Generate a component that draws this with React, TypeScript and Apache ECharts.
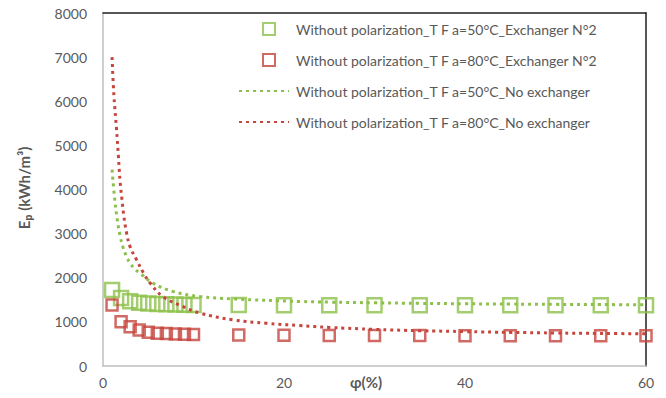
import React, { useEffect, useRef } from "react";
import * as echarts from "echarts";

const xSquares = [1, 2, 3, 4, 5, 6, 7, 8, 9, 10, 15, 20, 25, 30, 35, 40, 45, 50, 55, 60];
const green50Exchanger = [1720, 1540, 1470, 1435, 1415, 1405, 1398, 1392, 1388, 1384, 1380, 1378, 1377, 1376, 1376, 1375, 1375, 1374, 1374, 1374];
const red80Exchanger = [1385, 1005, 890, 815, 765, 745, 735, 725, 720, 715, 702, 698, 694, 692, 690, 688, 686, 685, 684, 683];

const xGreenCurve = [1, 1.3, 1.6, 1.9, 2.2, 2.6, 3, 3.5, 4.1, 5.5, 7.7, 10.7, 14.4, 21.8, 25, 30, 35, 40, 45, 50, 55, 60];
const green50NoExchanger = [4450, 3770, 3280, 2940, 2700, 2480, 2330, 2200, 2100, 1880, 1690, 1575, 1520, 1462, 1448, 1432, 1420, 1410, 1403, 1397, 1392, 1388];

const xRedCurve = [1, 1.2, 1.5, 1.7, 1.9, 2.1, 2.3, 2.6, 3, 3.7, 4.5, 5.2, 6.6, 8.8, 10.7, 14.4, 18, 21.7, 25, 30, 35, 40, 45, 50, 55, 60];
const red80NoExchanger = [7000, 6150, 5360, 4760, 4150, 3770, 3400, 3020, 2700, 2410, 2100, 1880, 1575, 1350, 1200, 1045, 970, 916, 875, 830, 800, 780, 762, 748, 738, 730];

const yTicks = [0, 1000, 2000, 3000, 4000, 5000, 6000, 7000, 8000];
const xTicks = [0, 20, 40, 60];

const legendNames = [
  "Without polarization_T F a=50°C_Exchanger N°2",
  "Without polarization_T F a=80°C_Exchanger N°2",
  "Without polarization_T F a=50°C_No exchanger",
  "Without polarization_T F a=80°C_No exchanger",
];

const GREEN = "#8CC04A";
const RED = "#C6453D";
const TEXT = "#595959";
const FONT = "Lato, 'Open Sans', sans-serif";

function zip(xs: number[], ys: number[]) {
  return xs.map((x, i) => [x, ys[i]]);
}

export default function App() {
  const ref = useRef<HTMLDivElement>(null);
  useEffect(() => {
    if (!ref.current) return;
    const chart = echarts.init(ref.current, undefined, { renderer: "svg" });
    chart.setOption({
      animation: false,
      backgroundColor: "#ffffff",
      textStyle: { fontFamily: FONT },
      grid: { left: 103, right: 20, top: 13, bottom: 32, containLabel: false },
      legend: [
        {
          orient: "vertical",
          left: 257,
          top: 17,
          itemWidth: 12,
          itemHeight: 12,
          itemGap: 17,
          textStyle: { color: TEXT, fontSize: 14, lineHeight: 14, fontFamily: FONT, padding: [0, 0, 0, 16] },
          data: [legendNames[0], legendNames[1]],
        },
        {
          orient: "vertical",
          left: 233,
          top: 79,
          itemWidth: 50,
          itemHeight: 14,
          itemGap: 17,
          textStyle: { color: TEXT, fontSize: 14, lineHeight: 14, fontFamily: FONT, padding: [0, 0, 0, 2] },
          data: [
            { name: legendNames[2], itemStyle: { color: "rgba(0,0,0,0)", borderWidth: 0, opacity: 0 } },
            { name: legendNames[3], itemStyle: { color: "rgba(0,0,0,0)", borderWidth: 0, opacity: 0 } },
          ],
        },
      ],
      xAxis: [
        {
          type: "value",
          min: xTicks[0],
          max: xTicks[xTicks.length - 1],
          interval: 20,
          axisLine: { show: true, lineStyle: { color: "#BFBFBF", width: 1.5 } },
          axisTick: { show: false },
          splitLine: { show: false },
          axisLabel: { color: TEXT, fontSize: 14, margin: 9, fontFamily: FONT },
        },
        {
          type: "value",
          position: "top",
          min: 0,
          max: 60,
          axisLine: { show: true, onZero: false, lineStyle: { color: "#1F1F1F", width: 1.5 } },
          axisTick: { show: false },
          axisLabel: { show: false },
          splitLine: { show: false },
        },
      ],
      yAxis: [
        {
          type: "value",
          min: yTicks[0],
          max: yTicks[yTicks.length - 1],
          interval: 1000,
          axisLine: { show: true, lineStyle: { color: "#BFBFBF", width: 1.5 } },
          axisTick: { show: false },
          splitLine: { show: false },
          axisLabel: {
            color: TEXT,
            fontSize: 14,
            margin: 16,
            fontFamily: FONT,
            formatter: (v: number) => String(v),
          },
        },
        {
          type: "value",
          position: "right",
          min: 0,
          max: 8000,
          axisLine: { show: true, onZero: false, lineStyle: { color: "#1F1F1F", width: 1.5 } },
          axisTick: { show: false },
          axisLabel: { show: false },
          splitLine: { show: false },
        },
      ],
      graphic: [
        {
          type: "text",
          rotation: Math.PI / 2,
          x: 24,
          y: 188,
          style: {
            text: "Eₚ (kWh/m³)",
            fill: TEXT,
            font: `bold 15px ${FONT}`,
            align: "center",
            verticalAlign: "middle",
          },
        },
        {
          type: "text",
          x: 366,
          y: 382,
          style: {
            text: "φ(%)",
            fill: TEXT,
            font: `bold 15px ${FONT}`,
            align: "center",
            verticalAlign: "middle",
          },
        },
      ],
      series: [
        {
          name: legendNames[0],
          type: "scatter",
          symbol: "rect",
          symbolSize: 14,
          itemStyle: { color: "rgba(0,0,0,0)", borderColor: GREEN, borderWidth: 2.5 },
          data: zip(xSquares, green50Exchanger),
          z: 3,
        },
        {
          name: legendNames[1],
          type: "scatter",
          symbol: "rect",
          symbolSize: 11,
          itemStyle: { color: "rgba(0,0,0,0)", borderColor: RED, borderWidth: 2.5 },
          data: zip(xSquares, red80Exchanger),
          z: 3,
        },
        {
          name: legendNames[2],
          type: "line",
          smooth: 0.4,
          showSymbol: false,
          symbol: "none",
          lineStyle: { color: GREEN, width: 3, type: [3, 4] },
          itemStyle: { color: GREEN },
          data: zip(xGreenCurve, green50NoExchanger),
          z: 4,
        },
        {
          name: legendNames[3],
          type: "line",
          smooth: 0.4,
          showSymbol: false,
          symbol: "none",
          lineStyle: { color: RED, width: 3, type: [3, 4] },
          itemStyle: { color: RED },
          data: zip(xRedCurve, red80NoExchanger),
          z: 4,
        },
      ],
    });
    return () => chart.dispose();
  }, []);
  return (
    <div
      ref={ref}
      style={{ position: "fixed", left: 0, top: 0, width: 666, height: 398 }}
    />
  );
}
